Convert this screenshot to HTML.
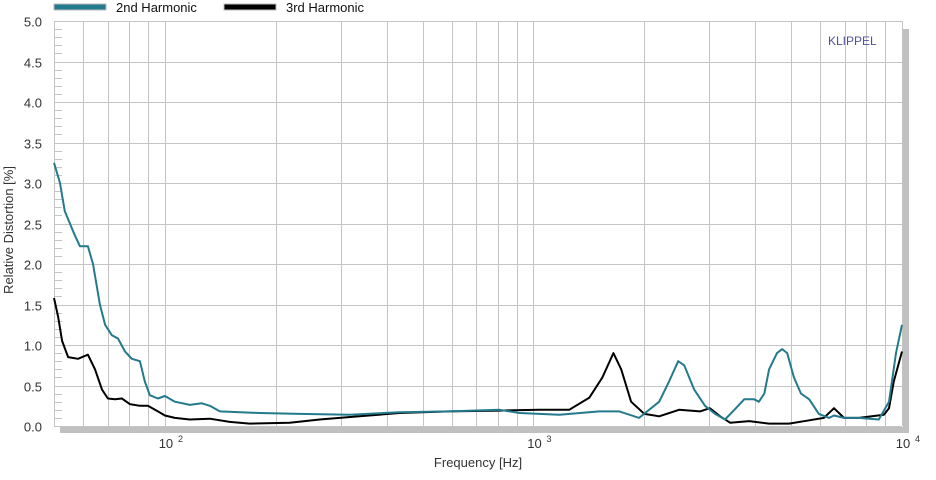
<!DOCTYPE html>
<html><head><meta charset="utf-8"><style>
body{margin:0;background:#fff;font-family:"Liberation Sans",sans-serif}
svg text{font-family:"Liberation Sans",sans-serif}
</style></head><body>
<svg id="c" width="936" height="475" xmlns="http://www.w3.org/2000/svg"></svg>
<script>
const yTicks=["0.0","0.5","1.0","1.5","2.0","2.5","3.0","3.5","4.0","4.5","5.0"];
const h2Freq=[50,51.9,53.5,57,58.8,61.8,63.8,66.6,68.8,71.8,74.6,77.9,81.3,85.5,88.2,91,95.7,100,106.4,116.8,125.9,132.4,140.9,180.7,232,317,433,592,809,916,1175,1510,1710,1935,2193,2333,2470,2564,2730,2920,3110,3310,3510,3730,3970,4090,4230,4360,4580,4730,4880,5090,5320,5600,5950,6340,6540,6960,7640,8650,9220,9630,10000];
const h2Val=[3.25,3.0,2.65,2.35,2.22,2.22,2.0,1.5,1.25,1.12,1.08,0.92,0.83,0.8,0.55,0.38,0.34,0.37,0.3,0.26,0.28,0.25,0.18,0.16,0.15,0.14,0.17,0.18,0.2,0.16,0.14,0.18,0.18,0.1,0.3,0.55,0.8,0.75,0.45,0.25,0.15,0.08,0.2,0.33,0.33,0.3,0.4,0.7,0.9,0.95,0.9,0.6,0.4,0.33,0.15,0.1,0.13,0.1,0.1,0.08,0.3,0.9,1.25];
const h3Freq=[50,51.3,52.6,54.6,58.1,61.8,64.6,67.5,70,73.2,76.4,80.3,85.5,89.9,95.7,100,106.4,116.8,132.4,149.9,169.8,218,263,337,433,592,809,1037,1250,1418,1538,1648,1730,1841,1999,2193,2483,2830,3010,3210,3420,3850,4360,4940,5600,6140,6540,6960,7640,8930,9220,9500,10000];
const h3Val=[1.58,1.35,1.05,0.85,0.83,0.88,0.7,0.45,0.34,0.33,0.34,0.27,0.25,0.25,0.18,0.13,0.1,0.08,0.09,0.05,0.03,0.04,0.08,0.12,0.16,0.18,0.19,0.2,0.2,0.35,0.6,0.9,0.7,0.3,0.15,0.12,0.2,0.18,0.22,0.12,0.04,0.06,0.03,0.03,0.07,0.1,0.22,0.1,0.1,0.14,0.22,0.55,0.92];
const L=54,R=902,T=21,B=426;
const xs=f=>L+(R-L)*Math.log10(f/50)/Math.log10(200);
const ys=v=>B-(B-T)*v/5;
const svg=document.getElementById('c');
const NS="http://www.w3.org/2000/svg";
function mk(tag,a,parent){const e=document.createElementNS(NS,tag);for(const k in a)e.setAttribute(k,a[k]);(parent||svg).appendChild(e);return e;}
let s1=mk('rect',{x:R+1,y:T+8,width:6,height:B-T-2,fill:'#c0c0c0'});


let s2=mk('rect',{x:L+6,y:B+1,width:R-L+1,height:6,fill:'#c0c0c0'});


const grid=mk('g',{stroke:'#c4c4c4','stroke-width':1,fill:'none'});


for(let d=10;d<=10000;d*=10){for(let m=1;m<10;m++){const f=d*m;if(f<50||f>10000)continue;const x=Math.round(xs(f))+0.5;mk('line',{x1:x,y1:T,x2:x,y2:B},grid);}}
yTicks.forEach((t,i)=>{const y=Math.round(ys(i*0.5))+0.5;mk('line',{x1:L,y1:y,x2:R,y2:y},grid);
 const tx=mk('text',{x:42,y:y+5,'text-anchor':'end','font-size':13,fill:'#333'});tx.textContent=t;
 
 });
for(let v=0.1;v<5;v+=0.1){if(Math.abs(v*2-Math.round(v*2))<1e-6)continue;const y=Math.round(ys(v))+0.5;mk('line',{x1:L,y1:y,x2:L+8,y2:y},grid);}
mk('line',{x1:L+0.5,y1:T,x2:L+0.5,y2:B},grid);
mk('line',{x1:R+0.5,y1:T,x2:R+0.5,y2:B},grid);
[[100,"2"],[1000,"3"],[10000,"4"]].forEach(([f,e])=>{const x=xs(f);const t=mk('text',{x:x+1,y:448,'text-anchor':'middle','font-size':13,fill:'#333'});t.textContent="10";
 
 
 const s=mk('text',{x:x+13,y:442,'font-size':9,fill:'#333'});s.textContent=e;
 
 });
function line(fr,va,col,name){const d=fr.map((f,i)=>(i?'L':'M')+xs(f).toFixed(1)+','+ys(va[i]).toFixed(1)).join('');
 const p=mk('path',{d:d,stroke:col,'stroke-width':2,fill:'none','stroke-linejoin':'round'});
 
 }
line(h3Freq,h3Val,'#000','series-3rd-harmonic');
line(h2Freq,h2Val,'#237a8c','series-2nd-harmonic');
let lg=mk('g',{});


mk('rect',{x:54,y:4,width:52,height:6,fill:'#237a8c',stroke:'#bbb'},lg);
let lt=mk('text',{x:116,y:12,'font-size':13,fill:'#111'},lg);lt.textContent='2nd Harmonic';


mk('rect',{x:224,y:4,width:52,height:6,fill:'#000',stroke:'#bbb'},lg);
let lt2=mk('text',{x:286,y:12,'font-size':13,fill:'#111'},lg);lt2.textContent='3rd Harmonic';


let k=mk('text',{x:828,y:45,'font-size':12,fill:'#5050a0'});k.textContent='KLIPPEL';


let xt=mk('text',{x:478,y:467,'text-anchor':'middle','font-size':13,fill:'#333'});xt.textContent='Frequency  [Hz]';


let yt=mk('text',{x:13,y:230,'text-anchor':'middle','font-size':13,fill:'#333',transform:'rotate(-90 13 230)'});yt.textContent='Relative Distortion  [%]';


</script>
</body></html>
